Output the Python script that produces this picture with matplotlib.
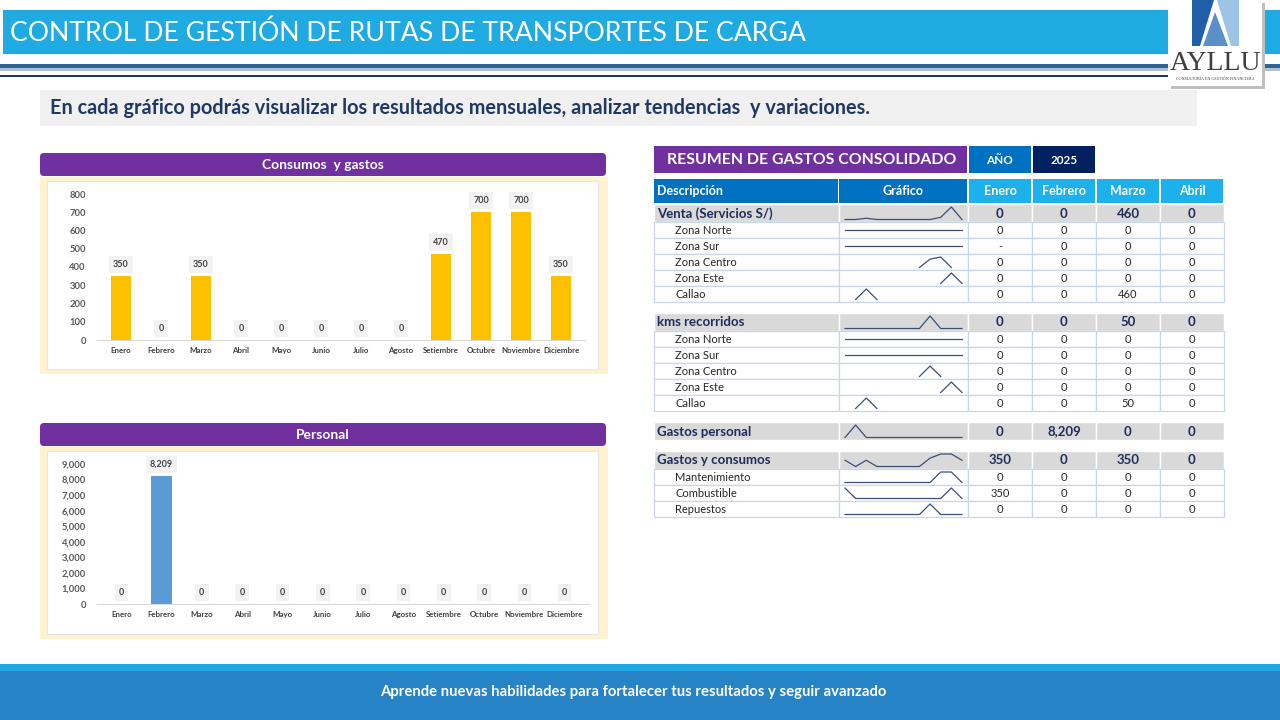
import numpy as np
import matplotlib
matplotlib.use("Agg")
import matplotlib.pyplot as plt
from matplotlib.patches import Rectangle, FancyBboxPatch, Polygon

plt.rcParams['font.family'] = ['Lato', 'DejaVu Sans']

# ---------------- DATA ----------------
meses = ["Enero", "Febrero", "Marzo", "Abril", "Mayo", "Junio", "Julio", "Agosto",
         "Setiembre", "Octubre", "Noviembre", "Diciembre"]
consumos_gastos = [350, 0, 350, 0, 0, 0, 0, 0, 470, 700, 700, 350]
personal = [0, 8209, 0, 0, 0, 0, 0, 0, 0, 0, 0, 0]

meses_tabla = ["Enero", "Febrero", "Marzo", "Abril"]
venta_total = [0, 0, 460, 0]
venta_zona_norte = [0, 0, 0, 0]
venta_zona_sur = [None, 0, 0, 0]
venta_zona_centro = [0, 0, 0, 0]
venta_zona_este = [0, 0, 0, 0]
venta_callao = [0, 0, 460, 0]
kms_total = [0, 0, 50, 0]
kms_zona_norte = [0, 0, 0, 0]
kms_zona_sur = [0, 0, 0, 0]
kms_zona_centro = [0, 0, 0, 0]
kms_zona_este = [0, 0, 0, 0]
kms_callao = [0, 0, 50, 0]
gastos_personal_tabla = [0, 8209, 0, 0]
gastos_consumos_tabla = [350, 0, 350, 0]
mantenimiento = [0, 0, 0, 0]
combustible = [350, 0, 0, 0]
repuestos = [0, 0, 0, 0]

nan = np.nan
spark_venta = [0, 0, 460, 0, 0, 0, 0, 0, 0, 800, 4600, 0]
spark_venta_norte = [0] * 12
spark_venta_sur = [0] * 12
spark_venta_centro = [nan] * 7 + [0, 80, 100, 0] + [nan]
spark_venta_este = [nan] * 9 + [0, 100, 0]
spark_venta_callao = [nan, 0, 460, 0] + [nan] * 8
spark_kms = [0] * 8 + [50] + [0] * 3
spark_kms_norte = [0] * 12
spark_kms_sur = [0] * 12
spark_kms_centro = [nan] * 7 + [0, 50, 0] + [nan] * 2
spark_kms_este = [nan] * 9 + [0, 50, 0]
spark_kms_callao = [nan, 0, 50, 0] + [nan] * 8
spark_mantenimiento = [0] * 9 + [350, 350, 0]
spark_combustible = [350, 0, 0, 0, 0, 0, 0, 0, 0, 0, 350, 0]
spark_repuestos = [0] * 8 + [470, 0, 0, 0]

bloques = [
    ("Venta (Servicios S/)", venta_total, spark_venta, [
        ("Zona Norte", venta_zona_norte, spark_venta_norte),
        ("Zona Sur", venta_zona_sur, spark_venta_sur),
        ("Zona Centro", venta_zona_centro, spark_venta_centro),
        ("Zona Este", venta_zona_este, spark_venta_este),
        ("Callao", venta_callao, spark_venta_callao)]),
    ("kms recorridos", kms_total, spark_kms, [
        ("Zona Norte", kms_zona_norte, spark_kms_norte),
        ("Zona Sur", kms_zona_sur, spark_kms_sur),
        ("Zona Centro", kms_zona_centro, spark_kms_centro),
        ("Zona Este", kms_zona_este, spark_kms_este),
        ("Callao", kms_callao, spark_kms_callao)]),
    ("Gastos personal", gastos_personal_tabla, personal, []),
    ("Gastos y consumos", gastos_consumos_tabla, consumos_gastos, [
        ("Mantenimiento", mantenimiento, spark_mantenimiento),
        ("Combustible", combustible, spark_combustible),
        ("Repuestos", repuestos, spark_repuestos)]),
]

# ---------------- FIGURE ----------------
W, H = 1280, 720
fig = plt.figure(figsize=(12.8, 7.2), dpi=100)
bg = fig.add_axes([0, 0, 1, 1])
bg.set_xlim(0, W)
bg.set_ylim(H, 0)
bg.axis('off')


def ax_at(x0, y0, x1, y1):
    a = fig.add_axes([x0 / W, (H - y1) / H, (x1 - x0) / W, (y1 - y0) / H])
    a.set_facecolor('none')
    return a


def rect(x0, y0, x1, y1, fc, ec='none', lw=0, z=1):
    bg.add_patch(Rectangle((x0, y0), x1 - x0, y1 - y0, facecolor=fc, edgecolor=ec, linewidth=lw, zorder=z))


def fmt(v):
    return "-" if v is None else f"{v:,.0f}"


# ---------- Header ----------
rect(3, 10, 1280, 54, '#1FAAE1')
bg.text(10, 33, "CONTROL DE GESTIÓN DE RUTAS DE TRANSPORTES DE CARGA", color='white',
        fontsize=19.2, fontweight='normal', va='center', ha='left', zorder=3)
rect(0, 64, 1280, 68, '#2F6593', z=2)
rect(0, 68, 1280, 70.5, '#AEBFD2', z=2)
rect(0, 75, 1170, 77, '#1F3864', z=2)

# logo
rect(1171, 3, 1265, 89, '#BFBFBF', z=4)
rect(1168, 0, 1262, 86, 'white', z=5)
bg.add_patch(Polygon([(1192, 0), (1214, 0), (1200, 46), (1192, 46)], closed=True,
                     facecolor='#1F5FA5', edgecolor='none', zorder=6))
bg.add_patch(Polygon([(1217, 0), (1239, 0), (1239, 46), (1231, 46)], closed=True,
                     facecolor='#9DC3E6', edgecolor='none', zorder=6))
bg.add_patch(Polygon([(1215, 12), (1203, 46), (1228, 46)], closed=True,
                     facecolor='#5B8FC9', edgecolor='none', zorder=6))
bg.text(1215, 63, "AYLLU", family=['Liberation Serif', 'DejaVu Serif'], fontsize=20,
        color='#404040', ha='center', va='center', zorder=7)
bg.text(1215, 79, "CONSULTORÍA EN GESTIÓN FINANCIERA", family=['Liberation Serif', 'DejaVu Serif'],
        fontsize=3, color='#404040', ha='center', va='center', zorder=7)

# subtitle
rect(40, 90, 1197, 126, '#F0F0F0')
bg.text(50, 108, "En cada gráfico podrás visualizar los resultados mensuales, analizar tendencias  y variaciones.",
        color='#1F3864', fontsize=14.3, fontweight='bold', va='center', ha='left', zorder=3)

# footer
rect(0, 664, 1280, 671, '#22A8E0')
rect(0, 671, 1280, 720, '#2683C6')
bg.text(633, 692, "Aprende nuevas habilidades para fortalecer tus resultados y seguir avanzado",
        color='white', fontsize=10.7, fontweight='bold', ha='center', va='center', zorder=3)


# ---------- Bar charts ----------
def panel(y_head, y_body0, y_body1, title):
    bg.add_patch(FancyBboxPatch((40, y_head), 566, 23, boxstyle="round,pad=0,rounding_size=4",
                                facecolor='#7030A0', edgecolor='none', zorder=2))
    bg.text(323, y_head + 12, title, color='white', fontsize=10, fontweight='bold',
            ha='center', va='center', zorder=3)
    rect(40, y_body0, 608, y_body1, '#FFF2CC')
    rect(47, y_body0 + 4, 598, y_body1 - 5, 'white', ec='#E6E6E6', lw=0.8, z=1.5)


panel(153, 177, 374, "Consumos  y gastos")
panel(423, 447, 639, "Personal")


def bar_chart(ax, values, color, ymax, step, fmt_tick):
    x = np.arange(len(meses))
    ax.bar(x, values, width=0.5, color=color, zorder=2)
    ax.set_xlim(-0.6, len(meses) - 0.4)
    ax.set_ylim(0, ymax)
    ax.set_yticks(np.arange(0, ymax + 1, step))
    ax.set_yticklabels([fmt_tick(t) for t in np.arange(0, ymax + 1, step)])
    ax.set_xticks(x)
    ax.set_xticklabels(meses)
    for s in ['top', 'right', 'left']:
        ax.spines[s].set_visible(False)
    ax.spines['bottom'].set_color('#D9D9D9')
    ax.tick_params(axis='both', length=0)
    ax.tick_params(axis='y', labelsize=6.8, labelcolor='#595959', pad=8)
    ax.tick_params(axis='x', labelsize=5.7, labelcolor='#404040', pad=5)
    for lab in ax.get_yticklabels():
        lab.set_fontweight('bold')
    for lab in ax.get_xticklabels():
        lab.set_fontweight('bold')
    for i, v in enumerate(values):
        ax.annotate(f"{v:,.0f}", xy=(i, v), xytext=(0, 8.5), textcoords='offset points',
                    ha='center', va='center', fontsize=6.5, fontweight='bold', color='#404040',
                    bbox=dict(boxstyle='square,pad=0.45', facecolor='#F2F2F2', edgecolor='none'),
                    zorder=3, annotation_clip=False)


ax1 = ax_at(97, 194, 585, 340)
bar_chart(ax1, consumos_gastos, '#FFC000', 800, 100, lambda t: f"{t:.0f}")
ax2 = ax_at(97, 464, 589, 604)
bar_chart(ax2, personal, '#5B9BD5', 9000, 1000, lambda t: f"{t:,.0f}")

# ---------- Table ----------
cols = [654, 839, 968, 1032, 1096, 1160, 1224]
navy = '#1F2D5A'
# title row
rect(654, 146, 967, 173, '#7030A0')
bg.text(667, 160, "RESUMEN DE GASTOS CONSOLIDADO", color='white', fontsize=11.4, fontweight='bold',
        ha='left', va='center', zorder=3)
rect(969, 146, 1031, 173, '#0070C0')
bg.text(1000, 160, "AÑO", color='white', fontsize=8.5, fontweight='bold', ha='center', va='center', zorder=3)
rect(1033, 146, 1095, 173, '#002060')
bg.text(1064, 160, "2025", color='white', fontsize=8.5, fontweight='bold', ha='center', va='center', zorder=3)

# header row
hy0, hy1 = 179, 203
rect(654, hy0, 838, hy1, '#0070C0')
rect(839, hy0, 967, hy1, '#0070C0')
bg.text(657, (hy0 + hy1) / 2, "Descripción", color='white', fontsize=9, fontweight='bold',
        ha='left', va='center', zorder=3)
bg.text(903, (hy0 + hy1) / 2, "Gráfico", color='white', fontsize=9, fontweight='bold',
        ha='center', va='center', zorder=3)
for j, m in enumerate(meses_tabla):
    x0, x1 = cols[2 + j] + 1, cols[3 + j] - 1
    rect(x0, hy0, x1, hy1, '#1CB0EC')
    bg.text((x0 + x1) / 2, (hy0 + hy1) / 2, m, color='white', fontsize=9, fontweight='bold',
            ha='center', va='center', zorder=3)


def sparkline(y0, y1, data):
    a = ax_at(845, y0, 962, y1)
    d = np.array(data, dtype=float)
    a.plot(np.arange(len(d)), d, color='#3B4F75', lw=0.9, clip_on=False)
    a.set_xlim(0, len(d) - 1)
    lo, hi = np.nanmin(d), np.nanmax(d)
    if hi == lo:
        a.set_ylim(lo - 1, lo + 1)
    else:
        a.set_ylim(lo, hi)
    a.axis('off')


def draw_row(y0, y1, label, vals, spark, header):
    yc = (y0 + y1) / 2 + 0.5
    if header:
        for k in range(len(cols) - 1):
            rect(cols[k], y0, cols[k + 1], y1, '#D9D9D9', ec='white', lw=1)
        bg.text(657, yc, label, color=navy, fontsize=9.5, fontweight='bold',
                ha='left', va='center', zorder=3)
        fs, fw, tc = 9.5, 'bold', navy
    else:
        for k in range(len(cols) - 1):
            rect(cols[k], y0, cols[k + 1], y1, 'white', ec='#C8D6EA', lw=0.9)
        bg.text(675, yc, label, color='#262626', fontsize=8,
                ha='left', va='center', zorder=3)
        fs, fw, tc = 8, 'normal', '#262626'
    sparkline(y0 + 3, y1 - 2.5, spark)
    for j, v in enumerate(vals):
        bg.text((cols[2 + j] + cols[3 + j]) / 2, yc, fmt(v), color=tc, fontsize=fs,
                fontweight=fw, ha='center', va='center', zorder=3)


y = 204
for label, vals, spark, subs in bloques:
    draw_row(y, y + 18, label, vals, spark, True)
    y += 18
    for sl, sv, ss in subs:
        draw_row(y, y + 16, sl, sv, ss, False)
        y += 16
    y += 11

fig.savefig("out.png", dpi=100)
